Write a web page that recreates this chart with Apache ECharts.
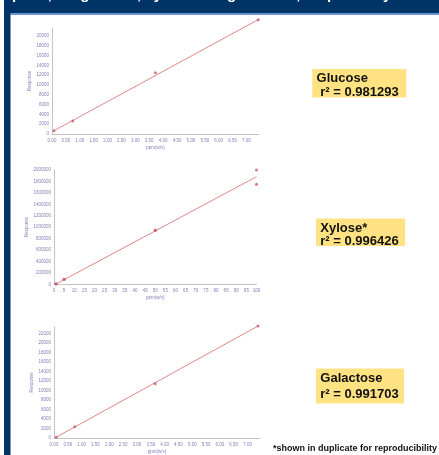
<!DOCTYPE html>
<html><head><meta charset="utf-8">
<script src="https://cdn.jsdelivr.net/npm/echarts@6/dist/echarts.min.js"></script>
<style>html,body{margin:0;padding:0;background:#fff}#c{width:439px;height:455px}</style>
</head><body><div id="c"></div>
<script>
// ---- data ----
const titleText = 'plots, for glucose, xylose and galactose, respectively';
const glucoseX = [0.07, 0.75, 3.72, 7.42];
const glucoseY = [670, 2650, 12500, 23300];
const glucoseFitX = [0.07, 7.42];
const glucoseFitY = [670, 23300];

const xyloseX = [1, 1, 5, 5, 50, 50, 100, 100];
const xyloseY = [5000, 8000, 87000, 90000, 940000, 950000, 2000000, 1750000];
const xyloseFitX = [1, 100];
const xyloseFitY = [5000, 1883000];

const galactoseX = [0.075, 0.75, 3.66, 7.38];
const galactoseY = [150, 2340, 11380, 23550];
const galactoseFitX = [0.075, 7.38];
const galactoseFitY = [150, 23550];

const labels = [
  {name: 'Glucose', r2: ' r² = 0.981293'},
  {name: 'Xylose*', r2: 'r² = 0.996426'},
  {name: 'Galactose', r2: 'r² = 0.991703'}
];
const footnote = '*shown in duplicate for reproducibility';
const xName = 'ppm(w/v)';
const yName = 'Response';

// ---- styles ----
const lblColor = '#8080b8';
const axisCol = '#c4c4c4';
const lineCol = '#e08888';
const ptCol = '#c85a6a';
const fontFam = 'Liberation Sans, Arial, sans-serif';

function pairs(xs, ys){ return xs.map((x,i)=>[x, ys[i]]); }

function xAxis(idx, max, interval, dec){
  return {
    gridIndex: idx, type: 'value', min: 0, max: max, interval: interval,
    name: xName, nameLocation: 'middle', nameGap: 11,
    nameTextStyle: {fontSize: 4.5, color: lblColor, fontFamily: fontFam},
    axisLine: {show: true, lineStyle: {color: axisCol, width: 1}},
    axisTick: {show: false},
    splitLine: {show: false},
    axisLabel: {fontSize: 4.5, color: lblColor, fontFamily: fontFam, margin: 4,
      showMaxLabel: dec === 0, showMinLabel: true,
      formatter: v => dec ? v.toFixed(dec) : String(v)}
  };
}
function yAxis(idx, max, interval){
  return {
    gridIndex: idx, type: 'value', min: 0, max: max, interval: interval,
    name: yName, nameLocation: 'middle', nameGap: 11, nameRotate: 90,
    nameTextStyle: {fontSize: 4.5, color: lblColor, fontFamily: fontFam},
    axisLine: {show: true, lineStyle: {color: axisCol, width: 1}},
    axisTick: {show: false},
    splitLine: {show: false},
    axisLabel: {fontSize: 4.5, color: lblColor, fontFamily: fontFam, margin: 3,
      showMaxLabel: max === 2000000, formatter: v => String(v)}
  };
}
function fit(idx, xs, ys){
  return {type: 'line', xAxisIndex: idx, yAxisIndex: idx, data: pairs(xs, ys),
    symbol: 'none', clip: false, lineStyle: {color: lineCol, width: 1}, z: 2, silent: true};
}
function pts(idx, xs, ys){
  return {type: 'scatter', xAxisIndex: idx, yAxisIndex: idx, data: pairs(xs, ys),
    symbol: 'circle', symbolSize: 3, clip: false, itemStyle: {color: ptCol}, z: 3, silent: true};
}

function labelBox(x, y, w, h, l1, l2, ty1, ty2){
  return {type: 'group', children: [
    {type: 'rect', shape: {x: x, y: y, width: w, height: h}, style: {fill: '#ffe383'}},
    {type: 'text', style: {x: x + 4.3, y: ty1, text: l1, font: 'bold 13px ' + fontFam, fill: '#111', verticalAlign: 'middle'}},
    {type: 'text', style: {x: x + 4.3, y: ty2, text: l2, font: 'bold 13px ' + fontFam, fill: '#111', verticalAlign: 'middle'}}
  ]};
}

const option = {
  animation: false,
  backgroundColor: '#fff',
  grid: [
    {left: 52, top: 28, width: 207, height: 106},
    {left: 54, top: 170, width: 202.5, height: 114.3},
    {left: 54, top: 326.7, width: 206, height: 114}
  ],
  xAxis: [xAxis(0, 7.45, 0.5, 2), xAxis(1, 100, 5, 0), xAxis(2, 7.45, 0.5, 2)],
  yAxis: [yAxis(0, 21600, 2000), yAxis(1, 2000000, 200000), yAxis(2, 23400, 2000)],
  series: [
    fit(0, glucoseFitX, glucoseFitY), pts(0, glucoseX, glucoseY),
    fit(1, xyloseFitX, xyloseFitY), pts(1, xyloseX, xyloseY),
    fit(2, galactoseFitX, galactoseFitY), pts(2, galactoseX, galactoseY)
  ],
  graphic: [
    {type: 'rect', shape: {x: 0, y: 0, width: 439, height: 13}, style: {fill: '#003366'}, z: 10},
    {type: 'rect', shape: {x: 10, y: 13, width: 429, height: 2}, style: {fill: '#6f95d0'}, z: 10},
    {type: 'rect', shape: {x: 4, y: 0, width: 6.5, height: 455}, style: {fill: '#003366'}, z: 10},
    {type: 'rect', shape: {x: 0, y: 0, width: 4, height: 455}, style: {fill: '#ffffff'}, z: 10},
    {type: 'text', style: {x: 12, y: -5.5, text: titleText, font: 'bold 15px ' + fontFam, fill: '#ffffff', verticalAlign: 'middle'}, z: 11},
    labelBox(312.3, 69, 94, 28.5, labels[0].name, labels[0].r2, 78.8, 92.2),
    labelBox(316, 218.5, 89, 27.5, labels[1].name, labels[1].r2, 228.5, 241),
    labelBox(316, 368.5, 88, 35, labels[2].name, labels[2].r2, 378.8, 394.5),
    {type: 'text', style: {x: 273, y: 448.5, text: footnote, font: 'bold 9px ' + fontFam, fill: '#111', verticalAlign: 'middle'}}
  ]
};
const chart = echarts.init(document.getElementById('c'), null, {renderer: 'canvas'});
chart.setOption(option);
</script></body></html>
